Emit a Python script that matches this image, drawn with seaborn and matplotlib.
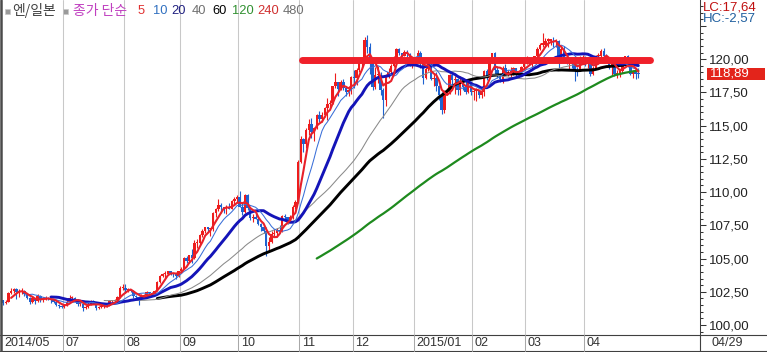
import numpy as np
import pandas as pd
import matplotlib
matplotlib.use("Agg")
import matplotlib.pyplot as plt
import seaborn as sns
from matplotlib.lines import Line2D
from matplotlib.patches import Rectangle
from matplotlib.ticker import FixedLocator, MultipleLocator
import matplotlib.transforms as mtrans

# ---------------- data (USD/JPY daily, 2014-05-28 .. 2015-04-29) ----------------
first_open = 101.95

close_may = [101.85, 101.65, 101.75]
high_may = [102.00, 101.90, 101.90]
low_may = [101.70, 101.50, 101.55]

close_jun = [102.40, 102.55, 102.70, 102.45, 102.45, 102.55, 102.30, 102.05, 101.75, 102.00,
             101.80, 102.20, 101.85, 101.95, 102.05, 101.95, 101.90, 101.75, 101.50, 101.40, 101.35]
high_jun = [102.50, 102.75, 102.80, 102.80, 102.70, 102.75, 102.60, 102.35, 102.10, 102.15,
            102.05, 102.30, 102.25, 102.10, 102.20, 102.10, 102.05, 101.95, 101.80, 101.60, 101.50]
low_jun = [101.75, 102.30, 102.40, 101.95, 102.10, 102.35, 102.15, 101.95, 101.60, 101.65,
           101.55, 101.75, 101.70, 101.75, 101.90, 101.85, 101.65, 101.65, 101.45, 101.30, 101.25]

close_jul = [101.50, 101.75, 102.05, 102.05, 101.90, 101.60, 101.60, 101.30, 101.35, 101.60, 101.80, 101.70,
             101.30, 101.35, 101.40, 101.45, 101.45, 101.80, 101.80, 101.85, 102.10, 102.80, 102.80]
high_jul = [101.60, 101.85, 102.25, 102.15, 102.10, 101.95, 101.75, 101.60, 101.50, 101.70, 101.90, 101.90,
            101.75, 101.45, 101.50, 101.55, 101.55, 101.90, 101.90, 101.95, 102.20, 102.95, 103.10]
low_jul = [101.25, 101.45, 101.70, 101.95, 101.85, 101.40, 101.40, 101.05, 101.20, 101.30, 101.50, 101.60,
           101.10, 101.20, 101.25, 101.30, 101.35, 101.40, 101.70, 101.70, 101.80, 102.05, 102.60]

close_aug = [102.60, 102.60, 102.55, 102.15, 102.10, 102.00, 102.20, 102.25, 102.45, 102.40, 102.35,
             102.55, 103.25, 103.70, 103.85, 103.85, 104.05, 103.90, 103.85, 103.70, 104.05]
high_aug = [103.05, 102.75, 102.70, 102.60, 102.25, 102.15, 102.30, 102.35, 102.55, 102.50, 102.50,
            102.65, 103.30, 103.80, 103.95, 104.05, 104.10, 104.10, 103.95, 103.90, 104.10]
low_aug = [102.40, 102.45, 102.45, 102.05, 101.95, 101.50, 101.95, 102.05, 102.20, 102.30, 102.20,
           102.35, 102.55, 103.15, 103.60, 103.55, 103.75, 103.80, 103.65, 103.50, 103.65]

close_sep = [104.25, 105.05, 104.80, 105.25, 105.05, 106.20, 106.20, 106.75, 107.10, 107.35, 107.20,
             107.20, 108.45, 108.75, 109.00, 108.85, 108.80, 108.80, 108.75, 109.30, 109.45, 109.65]
high_sep = [104.40, 105.10, 105.20, 105.30, 105.70, 106.40, 106.45, 106.85, 107.20, 107.40, 107.40,
            107.30, 108.50, 108.80, 109.45, 109.15, 108.90, 109.05, 109.20, 109.40, 109.60, 109.75]
low_sep = [104.05, 104.25, 104.70, 104.65, 104.70, 105.00, 105.80, 106.10, 106.65, 106.90, 107.00,
           106.70, 107.10, 108.10, 108.60, 108.40, 108.40, 108.35, 108.70, 108.70, 109.00, 109.25]

close_oct = [108.90, 108.50, 109.75, 108.80, 108.05, 108.15, 108.00, 107.60, 107.35, 107.10, 105.95, 106.25,
             106.85, 106.90, 107.15, 107.10, 108.20, 108.15, 107.80, 108.10, 108.90, 109.25, 112.30]
high_oct = [110.10, 109.25, 109.85, 109.85, 108.90, 108.35, 108.40, 108.15, 107.70, 107.50, 107.40, 106.60,
            107.05, 107.20, 107.30, 107.55, 108.30, 108.35, 108.15, 108.25, 109.00, 109.40, 112.45]
low_oct = [108.85, 108.25, 108.40, 108.65, 107.90, 107.75, 107.95, 107.50, 107.05, 106.90, 105.20, 105.60,
           106.20, 106.70, 106.60, 106.90, 107.00, 107.95, 107.60, 107.75, 108.00, 108.75, 109.20]

close_nov = [114.00, 113.60, 114.65, 115.10, 114.55, 114.85, 115.80, 115.50, 115.80, 116.30,
             116.60, 116.70, 117.95, 118.25, 117.75, 118.25, 117.80, 117.55, 117.65, 118.65]
high_nov = [114.20, 114.10, 114.85, 115.50, 115.60, 114.90, 115.90, 116.10, 116.00, 116.40,
            117.05, 116.95, 118.00, 118.95, 118.30, 118.40, 118.50, 117.95, 117.80, 118.75]
low_nov = [112.20, 113.00, 113.35, 114.30, 114.10, 113.85, 114.75, 115.30, 115.30, 115.65,
           115.45, 116.35, 116.60, 117.80, 117.20, 117.70, 117.70, 117.25, 117.25, 117.35]

close_dec = [118.55, 119.20, 119.80, 119.80, 121.45, 120.90, 119.90, 117.90, 118.80, 118.80, 117.70, 116.90,
             118.70, 119.00, 119.50, 120.05, 120.80, 120.45, 120.25, 120.55, 120.40, 119.65, 119.75]
high_dec = [119.15, 119.30, 119.85, 120.15, 121.70, 121.85, 121.20, 120.05, 119.40, 119.50, 119.00, 117.80,
            118.85, 119.35, 119.60, 120.20, 120.85, 120.85, 120.50, 120.70, 120.70, 120.45, 120.05]
low_dec = [117.85, 118.05, 119.00, 119.35, 119.75, 120.50, 118.90, 117.70, 117.75, 118.20, 117.30, 115.60,
           116.50, 118.60, 118.80, 119.40, 119.90, 120.35, 120.15, 120.20, 120.15, 119.45, 119.30]

close_jan = [119.80, 120.45, 119.60, 118.55, 119.25, 119.70, 118.50, 118.60, 117.95, 117.30, 116.20,
             117.50, 117.55, 118.80, 118.40, 118.50, 117.70, 118.30, 117.90, 117.50, 118.30, 117.50]
high_jan = [119.90, 120.70, 120.65, 119.70, 119.40, 119.90, 119.85, 118.90, 119.00, 118.05, 117.55,
            117.65, 117.80, 118.85, 118.90, 118.70, 118.60, 118.70, 118.60, 118.35, 118.50, 118.35]
low_jan = [119.60, 119.75, 119.30, 118.10, 118.50, 119.10, 118.40, 117.95, 117.60, 116.90, 115.85,
           115.95, 117.30, 117.40, 117.90, 117.40, 117.30, 117.30, 117.70, 117.40, 117.45, 117.30]

close_feb = [117.60, 117.60, 117.30, 117.50, 119.10, 118.60, 119.90, 120.50, 119.20, 118.70,
             118.50, 119.30, 118.90, 119.00, 119.00, 119.30, 118.90, 119.00, 119.40, 119.60]
high_feb = [117.75, 117.85, 117.65, 117.80, 119.20, 119.25, 120.05, 120.50, 120.55, 119.50,
            118.90, 119.45, 119.60, 119.15, 119.40, 119.40, 119.35, 119.15, 119.50, 119.75]
low_feb = [116.90, 116.85, 117.05, 117.05, 117.25, 118.40, 118.55, 119.70, 118.90, 118.60,
           118.30, 118.20, 118.80, 118.70, 118.50, 118.80, 118.75, 118.60, 118.90, 119.15]

close_mar = [120.00, 119.70, 119.80, 120.20, 120.80, 121.10, 121.10, 121.40, 121.40, 121.40, 121.30,
             121.40, 119.80, 120.80, 120.00, 119.70, 119.70, 119.60, 119.20, 119.10, 120.10, 120.10]
high_mar = [120.20, 120.15, 119.95, 120.25, 120.90, 121.25, 122.00, 121.60, 121.60, 121.55, 121.65,
            121.50, 121.45, 120.95, 121.00, 120.20, 119.85, 120.00, 119.90, 119.40, 120.25, 120.35]
low_mar = [119.60, 119.55, 119.30, 119.70, 119.85, 120.70, 120.95, 120.90, 120.90, 121.05, 120.90,
           120.95, 119.30, 119.70, 119.75, 119.60, 119.25, 119.30, 118.35, 118.70, 119.10, 119.70]

close_apr = [119.70, 119.70, 118.90, 119.30, 120.20, 120.20, 120.60, 120.20, 120.10, 119.40, 119.60,
             118.90, 118.90, 119.10, 119.70, 120.20, 119.60, 118.90, 119.00, 118.90, 118.89]
high_apr = [120.20, 120.00, 119.70, 119.50, 120.30, 120.45, 120.75, 120.85, 120.40, 120.15, 119.80,
            119.70, 119.20, 119.25, 119.85, 120.25, 120.30, 119.70, 119.15, 119.30, 119.35]
low_apr = [119.50, 119.35, 118.70, 118.80, 119.30, 119.90, 120.00, 120.05, 119.80, 119.25, 118.80,
           118.70, 118.60, 118.65, 118.95, 119.60, 119.40, 118.80, 118.60, 118.50, 118.55]

ma_periods = [120, 60, 40, 20, 10, 5]
ma_colors = ["#1E8A1E", "#000000", "#8A8A8A", "#1414B8", "#3A6FD8", "#E8202A"]
ma_widths = [1.6, 2.1, 0.75, 2.1, 0.75, 1.5]

month_label_starts = ["2014-05", "2014-07", "2014-08", "2014-09", "2014-10", "2014-11",
                      "2014-12", "2015-01", "2015-02", "2015-03", "2015-04"]
month_labels = ["2014/05", "07", "08", "09", "10", "11", "12", "2015/01", "02", "03", "04"]
last_date_label = "04/29"

price_ticks = [100.0, 102.5, 105.0, 107.5, 110.0, 112.5, 115.0, 117.5, 120.0, 122.5]

resistance_level = 119.9
resistance_start = "2014-11-03"
resistance_pad_bars = 4.2

legend_items = [("종가 단순", "#C040C0"), ("5", "#E03030"), ("10", "#3070C0"), ("20", "#202080"),
                ("40", "#707070"), ("60", "#000000"), ("120", "#309030"), ("240", "#D03030"),
                ("480", "#707070")]
symbol_name = "엔/일본"
lc_text = "LC:17,64"
hc_text = "HC:-2,57"

# ---------------- build frame ----------------
dates = pd.bdate_range("2014-05-28", "2015-04-29")
close = close_may + close_jun + close_jul + close_aug + close_sep + close_oct + close_nov + close_dec + close_jan + close_feb + close_mar + close_apr
high = high_may + high_jun + high_jul + high_aug + high_sep + high_oct + high_nov + high_dec + high_jan + high_feb + high_mar + high_apr
low = low_may + low_jun + low_jul + low_aug + low_sep + low_oct + low_nov + low_dec + low_jan + low_feb + low_mar + low_apr

df = pd.DataFrame({"date": dates, "close": close, "high": high, "low": low})
df["open"] = df["close"].shift(1).fillna(first_open)
df["idx"] = np.arange(len(df))
for p in ma_periods:
    df[f"ma{p}"] = df["close"].rolling(p).mean()

# ---------------- figure ----------------
sns.set_theme(style="white")
plt.rcParams["font.family"] = ["Noto Sans CJK KR", "DejaVu Sans"]
NUM_FONT = ["Liberation Sans Narrow", "Liberation Sans", "DejaVu Sans"]

W, H = 767, 352
fig = plt.figure(figsize=(W / 100, H / 100), dpi=100)
fig.patch.set_facecolor("white")

def fx(px):
    return px / W

def fy(py):
    return 1 - py / H

AX_L, AX_R, AX_T, AX_B = 1, 700, 0, 335
ax = fig.add_axes([fx(AX_L), fy(AX_B), (AX_R - AX_L) / W, (AX_B - AX_T) / H])
ax.set_facecolor("white")

UP, DOWN = "#EE1C1C", "#1E62D0"

# month gridlines
month_idx = []
for m in month_label_starts:
    month_idx.append(int(df.index[df["date"] >= pd.Timestamp(m + "-01")][0]))
for i in month_idx[1:]:
    ax.axvline(i - 0.5, color="#C8C8C8", lw=0.75, zorder=0)

# candles
up = df["close"] >= df["open"]
cols = np.where(up, UP, DOWN)
ax.vlines(df["idx"], df["low"], df["high"], colors=cols, linewidth=0.8, zorder=2)
body_lo = np.minimum(df["open"], df["close"])
body_h = np.maximum((df["close"] - df["open"]).abs(), 0.08)
ax.bar(df["idx"], body_h, bottom=body_lo, width=0.9, color=cols, linewidth=0, zorder=2)

# moving averages
for p, c, lw in zip(ma_periods, ma_colors, ma_widths):
    sns.lineplot(data=df, x="idx", y=f"ma{p}", color=c, linewidth=lw, ax=ax, legend=False, zorder=3)

# resistance line
rs = int(df.index[df["date"] >= pd.Timestamp(resistance_start)][0])
re = df["idx"].iloc[-1] + resistance_pad_bars
ax.plot([rs + 0.6, re], [resistance_level, resistance_level], color="#F0202A", lw=5.0,
        solid_capstyle="round", zorder=6)

ax.set_xlim(0.2, 263.2)
ax.set_ylim(99.25, 124.45)
ax.set_xlabel("")
ax.set_ylabel("")
ax.set_xticks([])
ax.yaxis.set_major_locator(FixedLocator(price_ticks))
ax.yaxis.set_minor_locator(MultipleLocator(0.5))
ax.set_yticklabels(["" if v > 121 else f"{v:.2f}".replace(".", ",") for v in price_ticks])
ax.tick_params(axis="y", which="both", left=False, right=True, labelleft=False, labelright=True,
               direction="out", colors="#333333", width=0.75)
ax.tick_params(axis="y", which="major", length=4.5, labelsize=9.5, pad=2)
ax.tick_params(axis="y", which="minor", length=2.5)
for lbl in ax.get_yticklabels():
    lbl.set_fontfamily(NUM_FONT)
    lbl.set_color("#222222")
for s in ["top", "bottom", "left"]:
    ax.spines[s].set_visible(False)
ax.spines["right"].set_color("#404040")
ax.spines["right"].set_linewidth(0.75)

# frame lines
fig.add_artist(Line2D([0, 1], [fy(335), fy(335)], transform=fig.transFigure, color="#404040", lw=0.8))
fig.add_artist(Line2D([0, 1], [fy(351), fy(351)], transform=fig.transFigure, color="#404040", lw=0.8))
fig.add_artist(Line2D([fx(1), fx(1)], [fy(352), fy(0)], transform=fig.transFigure, color="#4A4A4A", lw=1.8))
fig.add_artist(Line2D([fx(AX_R), fx(AX_R)], [fy(351), fy(335)], transform=fig.transFigure, color="#404040", lw=0.8))

# date strip
trans = mtrans.blended_transform_factory(ax.transData, fig.transFigure)
trans_txt = mtrans.offset_copy(trans, fig=fig, x=2.5, y=0, units="dots")
for k, (i, lab) in enumerate(zip(month_idx, month_labels)):
    xs = i - 0.5 if k > 0 else 0.6
    if k > 0:
        fig.add_artist(Line2D([xs, xs], [fy(351), fy(335)], transform=trans, color="#A8A8A8", lw=0.75))
    fig.text(xs, fy(343.5), lab, transform=trans_txt, ha="left", va="center",
             fontsize=9, color="#333333", family=NUM_FONT)
fig.text(fx(712), fy(343.5), last_date_label, ha="left", va="center", fontsize=9,
         color="#333333", family=NUM_FONT)

# last price marker on the right axis
last = df["close"].iloc[-1]
tr_fy = mtrans.blended_transform_factory(fig.transFigure, ax.transData)
ax.add_patch(Rectangle((fx(707), last - 0.44), fx(58), 0.88, transform=tr_fy,
                       facecolor="#E3241B", edgecolor="none", clip_on=False, zorder=10))
ax.text(fx(710), last, f"{last:.2f}".replace(".", ","), transform=tr_fy, ha="left", va="center",
        fontsize=9.5, color="white", family=NUM_FONT, clip_on=False, zorder=11)

# LC / HC
fig.text(fx(703), fy(7), lc_text, ha="left", va="center", fontsize=9.5, color="#C01010", family=NUM_FONT)
fig.text(fx(703), fy(18.5), hc_text, ha="left", va="center", fontsize=9.5, color="#1F5F9F", family=NUM_FONT)

# legend header
for sx in (5, 63):
    fig.add_artist(Rectangle((fx(sx), fy(13.5)), fx(5), 5 / H, transform=fig.transFigure,
                             facecolor="#9A9A9A", edgecolor="#C8C8C8", lw=0.5))
fig.text(fx(12), fy(10.5), symbol_name, ha="left", va="center", fontsize=10, color="#404040")
legend_x = [73, 138, 153, 171, 192, 212, 232, 257, 283]
for (txt, col), x in zip(legend_items, legend_x):
    fam = ["Noto Sans CJK KR", "DejaVu Sans"] if not txt.isdigit() else NUM_FONT
    fs = 10 if not txt.isdigit() else 9.3
    fig.text(fx(x), fy(10.5), txt, ha="left", va="center", fontsize=fs, color=col, family=fam)

fig.savefig("out.png", dpi=100, facecolor="white")
